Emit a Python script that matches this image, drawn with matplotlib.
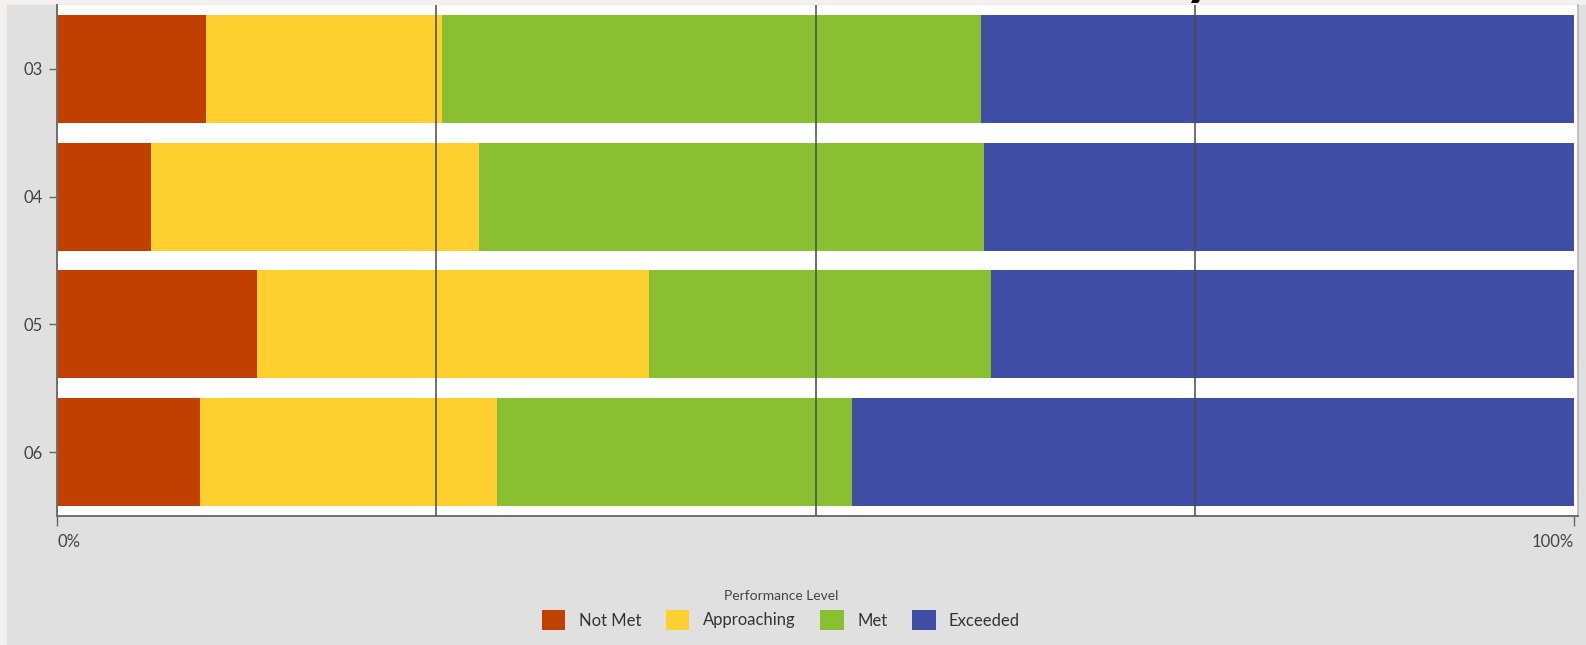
import matplotlib.pyplot as plt
from matplotlib.patches import Rectangle, Patch

# dados (percentual de alunos por nível)
series = ['03', '04', '05', '06']
niveis = ['Not Met', 'Approaching', 'Met', 'Exceeded']
not_met = [9.8, 6.2, 13.2, 9.4]
approaching = [15.6, 21.6, 25.8, 19.6]
met = [35.5, 33.3, 22.6, 23.4]
exceeded = [39.1, 38.9, 38.4, 47.6]
cores = ['#c13f00', '#fdd030', '#8abf32', '#3f4da5']

plt.rcParams['font.family'] = ['Lato', 'DejaVu Sans']

W, H = 1586, 645
fig = plt.figure(figsize=(W / 100, H / 100), dpi=100, facecolor='#f2f1ed')
fig.patches.append(Rectangle((7 / W, 0), 1 - 7 / W, 1 - 5 / H,
                             transform=fig.transFigure, color='#e0e0e0', zorder=-10))

ax = fig.add_axes([57 / W, 129 / H, 1521 / W, 511 / H])
ax.set_facecolor('white')

valores = [not_met, approaching, met, exceeded]
esquerda = [0.0] * len(series)
ypos = list(range(len(series)))
for nome, vals, cor in zip(niveis, valores, cores):
    frac = [v / 100 for v in vals]
    ax.barh(ypos, frac, left=esquerda, height=0.847, color=cor, zorder=2, label=nome)
    esquerda = [a + b for a, b in zip(esquerda, frac)]

ax.set_xlim(0, 1521 / 1517)
ax.set_ylim(3.5, -0.5)

# linhas de grade em 25/50/75 por cima das barras
for g in [0.25, 0.5, 0.75]:
    ax.axvline(g, color='#4a4a4a', lw=1.1, zorder=3)

ax.set_yticks(ypos)
ax.set_yticklabels(series)
ax.set_xticks([0, 1])
ax.set_xticklabels(['0%', '100%'])
lbls = ax.get_xticklabels()
lbls[0].set_ha('left')
lbls[1].set_ha('right')
ax.tick_params(axis='y', length=6, width=1, color='#666666', labelsize=12,
               labelcolor='#444444', pad=4)
ax.tick_params(axis='x', length=7, width=1, color='#666666', labelsize=12,
               labelcolor='#444444', pad=6)

for s in ['left', 'bottom']:
    ax.spines[s].set_color('#6e6e6e')
    ax.spines[s].set_linewidth(1.4)
ax.spines['top'].set_visible(False)
ax.spines['right'].set_color('#b5b5b5')
ax.spines['right'].set_linewidth(1.2)

handles = [Patch(facecolor=c, edgecolor='none') for c in cores]
leg = fig.legend(handles, niveis, loc='upper center', ncol=4,
                 bbox_to_anchor=(781 / W, 1 - 575 / H), frameon=False,
                 title='Performance Level', fontsize=12, title_fontsize=10,
                 handlelength=1.4, handleheight=1.4, handletextpad=0.8,
                 columnspacing=1.5, labelcolor='#333333')
leg.get_title().set_color('#444444')

# pedaço do título cortado no topo
fig.text(1184 / W, 1 + 7 / H, 'y', fontsize=44, fontweight='bold',
         color='black', ha='left', va='baseline')

fig.savefig('out.png', dpi=100, facecolor=fig.get_facecolor())
